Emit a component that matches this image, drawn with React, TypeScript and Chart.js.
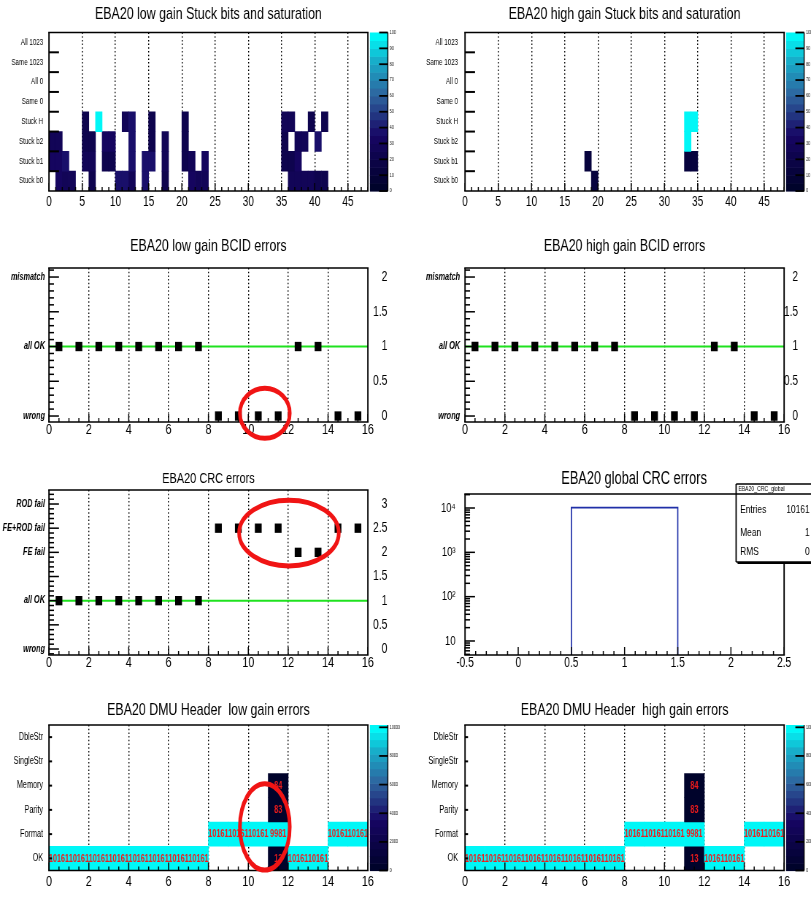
import React, { useEffect, useRef } from 'react';
import { Chart, registerables } from 'chart.js';

Chart.register(...registerables);

const FONT = "'Liberation Sans', Arial, Helvetica, sans-serif";
Chart.defaults.font.family = FONT;
Chart.defaults.color = '#000';

// horizontal squash of the original picture
const SX = 0.73;

// ---------------- data ----------------
const stuckRowLabels = ['Stuck b0', 'Stuck b1', 'Stuck b2', 'Stuck H', 'Same 0', 'All 0', 'Same 1023', 'All 1023'];
const stuckRowCenters = [0.5, 1.5, 2.5, 3.5, 4.5, 5.5, 6.5, 7.5];

const lowStuckB0Bins = [1, 2, 3, 6, 10, 11, 12, 14, 17, 21, 22, 23, 36, 37, 38, 39, 40, 41];
const lowStuckB0Vals = [32, 28, 28, 22, 35, 35, 28, 35, 22, 32, 25, 25, 28, 28, 25, 25, 22, 22];
const lowStuckB1Bins = [0, 1, 2, 5, 6, 8, 9, 12, 14, 15, 17, 20, 21, 23, 35, 36, 37];
const lowStuckB1Vals = [32, 32, 38, 25, 25, 22, 22, 38, 35, 35, 28, 22, 28, 32, 22, 22, 32];
const lowStuckB2Bins = [0, 1, 5, 6, 8, 9, 12, 15, 17, 20, 35, 37, 38, 40];
const lowStuckB2Vals = [28, 28, 22, 22, 32, 32, 38, 22, 28, 22, 22, 28, 28, 35];
const lowStuckHBins = [5, 7, 11, 12, 15, 20, 35, 36, 39, 41];
const lowStuckHVals = [22, 100, 25, 38, 22, 22, 25, 25, 22, 22];

const highStuckB0Bins = [19];
const highStuckB0Vals = [12];
const highStuckB1Bins = [18, 33, 34];
const highStuckB1Vals = [12, 14, 14];
const highStuckB2Bins = [33];
const highStuckB2Vals = [100];
const highStuckHBins = [33, 34];
const highStuckHVals = [100, 100];
const stuckPaletteTicks = [0, 10, 20, 30, 40, 50, 60, 70, 80, 90, 100];

const dmuCenters = [0.5, 1.5, 2.5, 3.5, 4.5, 5.5, 6.5, 7.5, 8.5, 9.5, 10.5, 11.5, 12.5, 13.5, 14.5, 15.5];
const bcidLowGain = [1, 1, 1, 1, 1, 1, 1, 1, 0, 0, 0, 0, 1, 1, 0, 0];
const bcidHighGain = [1, 1, 1, 1, 1, 1, 1, 1, 0, 0, 0, 0, 1, 1, 0, 0];
const bcidLabelValues = [0, 1, 2];
const bcidLabels = ['wrong', 'all OK', 'mismatch'];
const crcValues = [1, 1, 1, 1, 1, 1, 1, 1, 2.5, 2.5, 2.5, 2.5, 2, 2, 2.5, 2.5];
const crcLabelValues = [0, 1, 2, 2.5, 3];
const crcLabels = ['wrong', 'all OK', 'FE fail', 'FE+ROD fail', 'ROD fail'];
const okLevel = 1;

const crcGlobalEdges = [0.5, 1.5];
const crcGlobalCounts = [10161];
const logTickValues = [10, 100, 1000, 10000];
const logTickLabels = ['10', '10²', '10³', '10⁴'];

const dmuRowLabels = ['OK', 'Format', 'Parity', 'Memory', 'SingleStr', 'DbleStr'];
const dmuRowCenters = [0.5, 1.5, 2.5, 3.5, 4.5, 5.5];
const dmuOkBins = [0, 1, 2, 3, 4, 5, 6, 7, 11, 12, 13];
const dmuOkVals = [10161, 10161, 10161, 10161, 10161, 10161, 10161, 10161, 13, 10161, 10161];
const dmuFormatBins = [8, 9, 10, 11, 14, 15];
const dmuFormatVals = [10161, 10161, 10161, 9981, 10161, 10161];
const dmuParityBins = [11];
const dmuParityVals = [83];
const dmuMemoryBins = [11];
const dmuMemoryVals = [84];
const dmuPaletteMax = 10161;
const dmuPaletteTicks = [0, 2000, 4000, 6000, 8000, 10000];

// ---------------- palette (ROOT deep sea) ----------------
const palStops = [0, 0.34, 0.61, 0.84, 1];
const palR = [0, 0.09, 0.18, 0.09, 0];
const palG = [0.01, 0.02, 0.39, 0.68, 0.97];
const palB = [0.17, 0.39, 0.62, 0.79, 0.97];
function pal(f: number) {
  let i = 0;
  while (i < palStops.length - 2 && f > palStops[i + 1]) i++;
  const t = Math.max(0, Math.min(1, (f - palStops[i]) / (palStops[i + 1] - palStops[i])));
  const c = (arr: number[]) => Math.round(255 * (arr[i] + t * (arr[i + 1] - arr[i])));
  return `rgb(${c(palR)},${c(palG)},${c(palB)})`;
}
const NBANDS = 20;
function cellColor(v: number, max: number) {
  let k = Math.floor((v / max) * NBANDS);
  if (k >= NBANDS) k = NBANDS - 1;
  if (k < 0) k = 0;
  return pal(k / (NBANDS - 1));
}

function rowCells(row: number, bins: number[], vals: number[]) {
  return bins.map((b, i) => ({ bin: b, row, v: vals[i] }));
}

// ---------------- geometry helpers ----------------
type Box = { x: number; y: number; w: number; h: number };
type Plot = { l: number; r: number; t: number; b: number };

function geom(box: Box, plot: Plot) {
  return {
    W: Math.round(box.w / SX),
    H: box.h,
    L: (plot.l - box.x) / SX,
    R: (plot.r - box.x) / SX,
    T: plot.t - box.y,
    B: plot.b - box.y,
    box,
  };
}
const cx = (g: any, css: number) => (css - g.box.x) / SX;
const tickFmt = (v: any) => String(Math.round(Number(v) * 1000) / 1000);

function evenTicks(from: number, to: number, step: number, majorEvery: number, majorLen: number, minorLen: number) {
  const out: any[] = [];
  const n = Math.round((to - from) / step);
  for (let i = 0; i <= n; i++) {
    const v = from + i * step;
    const r = v / majorEvery;
    const maj = Math.abs(r - Math.round(r)) < 1e-6;
    out.push({ v, len: maj ? majorLen : minorLen });
  }
  return out;
}

function xAxis(g: any, min: number, max: number, step: number, size: number, pad: number, grid: boolean) {
  return {
    type: 'linear',
    position: 'bottom',
    min,
    max,
    offset: false,
    z: 1,
    afterFit: (s: any) => {
      s.height = g.H - g.B;
    },
    ticks: {
      stepSize: step,
      includeBounds: false,
      autoSkip: false,
      maxRotation: 0,
      minRotation: 0,
      padding: pad,
      color: '#000',
      font: { size, lineHeight: 1 },
      callback: (v: any) => tickFmt(v),
    },
    grid: {
      display: grid,
      drawTicks: false,
      offset: false,
      lineWidth: 1.4,
      color: (c: any) =>
        c.tick && (Math.abs(c.tick.value - min) < 1e-9 || Math.abs(c.tick.value - max) < 1e-9) ? 'rgba(0,0,0,0)' : '#000',
    },
    border: { display: false, dash: [1.5, 2.2] },
  };
}

function yLeft(g: any, type: string, min: number, max: number, vals: number[], labels: string[], font: any, pad: number) {
  return {
    type,
    position: 'left',
    min,
    max,
    afterFit: (s: any) => {
      s.width = g.L;
    },
    afterBuildTicks: (s: any) => {
      s.ticks = vals.map((v) => ({ value: v }));
    },
    ticks: { autoSkip: false, padding: pad, color: '#000', font, callback: (_v: any, i: number) => labels[i] },
    grid: { display: false, drawTicks: false },
    border: { display: false },
  };
}

function yRight(g: any, min: number, max: number, step: number, size: number, rightCss: number) {
  const rEdge = (rightCss - g.box.x) / SX;
  const width = rEdge - g.R;
  const widest = 1.39 * size;
  return {
    padRight: g.W - rEdge,
    axis: {
      type: 'linear',
      position: 'right',
      min,
      max,
      afterFit: (s: any) => {
        s.width = width;
      },
      ticks: {
        stepSize: step,
        includeBounds: false,
        crossAlign: 'far',
        padding: width - widest,
        color: '#000',
        font: { size, lineHeight: 1 },
        callback: (v: any) => tickFmt(v),
      },
      grid: { display: false, drawTicks: false },
      border: { display: false },
    },
  };
}

function cbAxis(g: any, max: number, tickVals: number[]) {
  return {
    type: 'linear',
    position: 'right',
    min: 0,
    max,
    afterFit: (s: any) => {
      s.width = g.W - g.R;
    },
    afterBuildTicks: (s: any) => {
      s.ticks = tickVals.map((v) => ({ value: v }));
    },
    ticks: { autoSkip: false, padding: 30, color: '#000', font: { size: 5, lineHeight: 1 }, callback: (v: any) => tickFmt(v) },
    grid: { display: false, drawTicks: false },
    border: { display: false },
  };
}

function baseOpts(g: any, padRight: number, scales: any) {
  return {
    responsive: false,
    animation: false,
    events: [],
    layout: { autoPadding: false, padding: { top: g.T, right: padRight, bottom: 0, left: 0 } },
    plugins: { legend: { display: false }, tooltip: { enabled: false }, title: { display: false } },
    scales,
  };
}

// ---------------- decoration plugin (ROOT frame, ticks, title, palette, annotations) ----------------
function decorPlugin(d: any) {
  return {
    id: 'decor',
    afterDraw(chart: any) {
      const ctx = chart.ctx;
      const a = chart.chartArea;
      const xs = chart.scales.x;
      const ys = chart.scales.y;
      const line = (x1: number, y1: number, x2: number, y2: number) => {
        ctx.beginPath();
        ctx.moveTo(x1, y1);
        ctx.lineTo(x2, y2);
        ctx.stroke();
      };
      ctx.save();

      if (d.cellText) {
        const meta = chart.getDatasetMeta(0);
        const raw = chart.data.datasets[0].data;
        ctx.fillStyle = '#ee1c1c';
        ctx.font = `bold ${d.cellText}px ${FONT}`;
        ctx.textAlign = 'center';
        ctx.textBaseline = 'middle';
        meta.data.forEach((el: any, i: number) => {
          ctx.fillText(String(raw[i].v), el.x, (el.y + el.base) / 2 + 0.5);
        });
      }

      if (d.cb) {
        const s = chart.scales[d.cb.axis];
        for (let k = 0; k < NBANDS; k++) {
          const y0 = s.getPixelForValue((k * d.cb.max) / NBANDS);
          const y1 = s.getPixelForValue(((k + 1) * d.cb.max) / NBANDS);
          ctx.fillStyle = pal(k / (NBANDS - 1));
          ctx.fillRect(d.cb.x0, y1, d.cb.x1 - d.cb.x0, y0 - y1 + 0.6);
        }
        ctx.strokeStyle = '#000';
        ctx.lineWidth = 1.8;
        s.ticks.forEach((t: any) => {
          const py = s.getPixelForValue(t.value);
          line(d.cb.x1 - 12, py, d.cb.x1, py);
        });
        ctx.lineWidth = 1.4;
        line(d.cb.x1, a.top, d.cb.x1, a.bottom);
      }

      // frame
      ctx.strokeStyle = '#000';
      ctx.lineWidth = 1.3;
      line(a.left - 1, a.top, a.right + 1, a.top);
      line(a.left - 1, a.bottom, a.right + 1, a.bottom);
      ctx.lineWidth = 1.9;
      line(a.left, a.top, a.left, a.bottom);
      line(a.right, a.top, a.right, a.bottom);

      // x ticks (inside)
      ctx.lineWidth = 1.5;
      const nx = Math.round((xs.max - xs.min) / d.xMinor);
      for (let i = 0; i <= nx; i++) {
        const v = xs.min + i * d.xMinor;
        const r = v / d.xMajor;
        const maj = Math.abs(r - Math.round(r)) < 1e-6;
        const px = xs.getPixelForValue(v);
        line(px, a.bottom, px, a.bottom - (maj ? d.xMajorLen : d.xMinorLen));
      }
      // y ticks (inside)
      ctx.lineWidth = d.yTickW;
      d.yTicks.forEach((t: any) => {
        const py = ys.getPixelForValue(t.v);
        line(a.left, py, a.left + t.len / SX, py);
      });

      // annotations
      if (d.ellipses) {
        ctx.strokeStyle = '#f01414';
        ctx.lineWidth = 5;
        d.ellipses.forEach((e: any) => {
          const ex = xs.getPixelForValue(e.x);
          const ey = ys.getPixelForValue(e.y);
          const rx = Math.abs(xs.getPixelForValue(e.x + e.rx) - ex);
          const ry = Math.abs(ys.getPixelForValue(e.y + e.ry) - ey);
          ctx.beginPath();
          ctx.ellipse(ex, ey, rx, ry, 0, 0, Math.PI * 2);
          ctx.stroke();
        });
      }

      // statistics box
      if (d.stats) {
        const st = d.stats;
        const right = chart.width + 20;
        ctx.fillStyle = '#000';
        ctx.fillRect(st.x0 + 2, st.y0 + 2, right - st.x0, st.y1 - st.y0);
        ctx.fillStyle = '#fff';
        ctx.fillRect(st.x0, st.y0, right - st.x0, st.y1 - st.y0);
        ctx.strokeStyle = '#000';
        ctx.lineWidth = 1.3;
        line(st.x0, st.y0, right, st.y0);
        line(st.x0, st.y1, right, st.y1);
        line(st.x0, st.sep, right, st.sep);
        ctx.lineWidth = 1.8;
        line(st.x0, st.y0, st.x0, st.y1);
        ctx.fillStyle = '#000';
        ctx.textBaseline = 'middle';
        ctx.textAlign = 'left';
        ctx.font = `${st.headSize}px ${FONT}`;
        ctx.fillText(st.header, st.x0 + 3, (st.y0 + st.sep) / 2 + 0.5);
        ctx.font = `${st.size}px ${FONT}`;
        st.rows.forEach((r: any) => {
          ctx.textAlign = 'left';
          ctx.fillText(r[0], st.labelX, r[2]);
          ctx.textAlign = 'right';
          ctx.fillText(r[1], st.valX, r[2]);
        });
      }

      // title
      ctx.fillStyle = '#000';
      ctx.font = `${d.titleSize}px ${FONT}`;
      ctx.textAlign = 'center';
      ctx.textBaseline = 'middle';
      const tx = d.titleX !== undefined ? d.titleX : (a.left + a.right) / 2;
      ctx.fillText(d.title, tx, d.titleY);
      ctx.restore();
    },
  };
}

// ---------------- chart builders ----------------
function heatmap(g: any, cells: any[], rowCenters: number[], rowLabels: string[], rowFont: any, rowPad: number, xMax: number, xStep: number,
  xFont: number, xPad: number, cbMax: number, cbTicks: number[], deco: any) {
  return {
    type: 'bar',
    data: {
      datasets: [
        {
          data: cells.map((c) => ({ x: c.bin + 0.5, y: [c.row, c.row + 1], v: c.v })),
          backgroundColor: cells.map((c) => cellColor(c.v, cbMax)),
          borderWidth: 0,
          barPercentage: 1,
          categoryPercentage: 1,
          grouped: false,
        },
      ],
    },
    options: baseOpts(g, 0, {
      x: xAxis(g, 0, xMax, xStep, xFont, xPad, true),
      y: yLeft(g, 'linear', 0, rowCenters.length, rowCenters, rowLabels, rowFont, rowPad),
      cb: cbAxis(g, cbMax, cbTicks),
    }),
    plugins: [decorPlugin(deco)],
  };
}

function errorPlot(g: any, values: number[], yMin: number, yMax: number, labelVals: number[], labels: string[], leftPad: number,
  rightCss: number, deco: any) {
  const r = yRight(g, yMin, yMax, 0.5, 14, rightCss);
  return {
    type: 'scatter',
    data: {
      datasets: [
        {
          data: dmuCenters.map((x, i) => ({ x, y: values[i] })),
          pointStyle: 'rect',
          pointRadius: 6.6,
          backgroundColor: '#000',
          borderColor: '#000',
          borderWidth: 0,
        },
        {
          type: 'line',
          data: [
            { x: 0, y: okLevel },
            { x: dmuCenters.length, y: okLevel },
          ],
          borderColor: '#1fe21f',
          borderWidth: 2,
          pointRadius: 0,
          showLine: true,
          fill: false,
        },
      ],
    },
    options: baseOpts(g, r.padRight, {
      x: xAxis(g, 0, 16, 2, 15, 0, true),
      y: yLeft(g, 'linear', yMin, yMax, labelVals, labels, { size: 10, style: 'italic', weight: 'bold', lineHeight: 1 }, leftPad),
      y2: r.axis,
    }),
    plugins: [decorPlugin(deco)],
  };
}

// ---------------- panels ----------------
const lowStuckCells = [
  ...rowCells(0, lowStuckB0Bins, lowStuckB0Vals),
  ...rowCells(1, lowStuckB1Bins, lowStuckB1Vals),
  ...rowCells(2, lowStuckB2Bins, lowStuckB2Vals),
  ...rowCells(3, lowStuckHBins, lowStuckHVals),
];
const highStuckCells = [
  ...rowCells(0, highStuckB0Bins, highStuckB0Vals),
  ...rowCells(1, highStuckB1Bins, highStuckB1Vals),
  ...rowCells(2, highStuckB2Bins, highStuckB2Vals),
  ...rowCells(3, highStuckHBins, highStuckHVals),
];
const dmuCells = [
  ...rowCells(0, dmuOkBins, dmuOkVals),
  ...rowCells(1, dmuFormatBins, dmuFormatVals),
  ...rowCells(2, dmuParityBins, dmuParityVals),
  ...rowCells(3, dmuMemoryBins, dmuMemoryVals),
];

const stuckRowTicks = [1, 2, 3, 4, 5, 6, 7].map((v) => ({ v, len: 10 }));
const dmuRowTicks = dmuRowCenters.map((v) => ({ v, len: 3 }));

const panels: any[] = [
  {
    box: { x: 0, y: 0, w: 405, h: 225 },
    plot: { l: 49, r: 368, t: 30, b: 191 },
    make: (g: any) =>
      heatmap(g, lowStuckCells, stuckRowCenters, stuckRowLabels, { size: 8.5, lineHeight: 1 }, 8, 48, 5, 14, 4, 100, stuckPaletteTicks, {
        title: 'EBA20 low gain Stuck bits and saturation', titleSize: 17, titleY: 14,
        xMinor: 1, xMajor: 5, xMinorLen: 4, xMajorLen: 8,
        yTicks: stuckRowTicks, yTickW: 2,
        cb: { axis: 'cb', max: 100, x0: cx(g, 370), x1: cx(g, 388) },
      }),
  },
  {
    box: { x: 405, y: 0, w: 406, h: 225 },
    plot: { l: 465, r: 784, t: 30, b: 191 },
    make: (g: any) =>
      heatmap(g, highStuckCells, stuckRowCenters, stuckRowLabels, { size: 8.5, lineHeight: 1 }, 9.6, 48, 5, 14, 4, 100, stuckPaletteTicks, {
        title: 'EBA20 high gain Stuck bits and saturation', titleSize: 17, titleY: 14,
        xMinor: 1, xMajor: 5, xMinorLen: 4, xMajorLen: 8,
        yTicks: stuckRowTicks, yTickW: 2,
        cb: { axis: 'cb', max: 100, x0: cx(g, 786), x1: cx(g, 804) },
      }),
  },
  {
    box: { x: 0, y: 225, w: 405, h: 230 },
    plot: { l: 49, r: 368, t: 268, b: 422 },
    make: (g: any) =>
      errorPlot(g, bcidLowGain, -0.086, 2.13, bcidLabelValues, bcidLabels, 5.5, 387.5, {
        title: 'EBA20 low gain BCID errors', titleSize: 17, titleY: 21,
        xMinor: 0.5, xMajor: 2, xMinorLen: 4, xMajorLen: 8,
        yTicks: evenTicks(0, 2.1, 0.1, 0.5, 10, 5), yTickW: 1.5,
        ellipses: [{ x: 10.83, y: 0.04, rx: 1.25, ry: 0.36 }],
      }),
  },
  {
    box: { x: 405, y: 225, w: 406, h: 230 },
    plot: { l: 465, r: 784, t: 268, b: 422 },
    make: (g: any) =>
      errorPlot(g, bcidHighGain, -0.086, 2.13, bcidLabelValues, bcidLabels, 6.8, 798, {
        title: 'EBA20 high gain BCID errors', titleSize: 17, titleY: 21,
        xMinor: 0.5, xMajor: 2, xMinorLen: 4, xMajorLen: 8,
        yTicks: evenTicks(0, 2.1, 0.1, 0.5, 10, 5), yTickW: 1.5,
      }),
  },
  {
    box: { x: 0, y: 455, w: 405, h: 235 },
    plot: { l: 49, r: 368, t: 490, b: 655 },
    make: (g: any) =>
      errorPlot(g, crcValues, -0.124, 3.29, crcLabelValues, crcLabels, 5.5, 387.5, {
        title: 'EBA20 CRC errors', titleSize: 15, titleY: 24,
        xMinor: 0.5, xMajor: 2, xMinorLen: 4, xMajorLen: 8,
        yTicks: evenTicks(-0.1, 3.2, 0.1, 0.5, 10, 5), yTickW: 1.5,
        ellipses: [{ x: 12.04, y: 2.4, rx: 2.5, ry: 0.68 }],
      }),
  },
  {
    box: { x: 405, y: 455, w: 406, h: 235 },
    plot: { l: 465, r: 784, t: 494, b: 655 },
    make: (g: any) => {
      const yMin = 4.83;
      const yMax = 20700;
      const outline: any[] = [];
      crcGlobalCounts.forEach((c, i) => {
        outline.push({ x: crcGlobalEdges[i], y: yMin });
        outline.push({ x: crcGlobalEdges[i], y: c });
        outline.push({ x: crcGlobalEdges[i + 1], y: c });
        outline.push({ x: crcGlobalEdges[i + 1], y: yMin });
      });
      const entries = crcGlobalCounts.reduce((s, c) => s + c, 0);
      const centers = crcGlobalCounts.map((_c, i) => (crcGlobalEdges[i] + crcGlobalEdges[i + 1]) / 2);
      const mean = crcGlobalCounts.reduce((s, c, i) => s + c * centers[i], 0) / entries;
      const rms = Math.sqrt(crcGlobalCounts.reduce((s, c, i) => s + c * (centers[i] - mean) ** 2, 0) / entries);
      const minorLog: any[] = [];
      [1, 10, 100, 1000, 10000].forEach((dec) => {
        for (let k = 1; k <= 9; k++) {
          const v = k * dec;
          if (v >= yMin && v <= yMax) minorLog.push({ v, len: k === 1 ? 10 : 5 });
        }
      });
      return {
        type: 'line',
        data: {
          datasets: [
            { data: outline, borderColor: '#2030a8', borderWidth: 1.7, pointRadius: 0, fill: false, tension: 0 },
          ],
        },
        options: baseOpts(g, g.W - g.R, {
          x: xAxis(g, -0.5, 2.5, 0.5, 14, 1, false),
          y: yLeft(g, 'logarithmic', yMin, yMax, logTickValues, logTickLabels, { size: 13, lineHeight: 1 }, 13),
        }),
        plugins: [
          decorPlugin({
            title: 'EBA20 global CRC errors', titleSize: 17.5, titleY: 24, titleX: cx(g, 634),
            xMinor: 0.1, xMajor: 0.5, xMinorLen: 4, xMajorLen: 8,
            yTicks: minorLog, yTickW: 1.5,
            stats: {
              x0: cx(g, 736), y0: 29, y1: 107, sep: 39,
              header: 'EBA20_CRC_global', headSize: 7, size: 11.5,
              labelX: cx(g, 740), valX: cx(g, 809.5),
              rows: [
                ['Entries', String(entries), 55],
                ['Mean', tickFmt(mean), 78],
                ['RMS', tickFmt(rms), 97],
              ],
            },
          }),
        ],
      };
    },
  },
  {
    box: { x: 0, y: 690, w: 405, h: 213 },
    plot: { l: 49, r: 368, t: 725, b: 885 },
    make: (g: any) =>
      heatmap(g, dmuCells, dmuRowCenters, dmuRowLabels, { size: 10, lineHeight: 1 }, 8, 16, 2, 15, 3.5, dmuPaletteMax, dmuPaletteTicks, {
        title: 'EBA20 DMU Header  low gain errors', titleSize: 17, titleY: 20,
        xMinor: 0.5, xMajor: 2, xMinorLen: 4, xMajorLen: 8,
        yTicks: dmuRowTicks, yTickW: 2,
        cb: { axis: 'cb', max: dmuPaletteMax, x0: cx(g, 370), x1: cx(g, 388) },
        cellText: 10,
        ellipses: [{ x: 10.83, y: 1.8, rx: 1.25, ry: 1.78 }],
      }),
  },
  {
    box: { x: 405, y: 690, w: 406, h: 213 },
    plot: { l: 465, r: 784, t: 725, b: 885 },
    make: (g: any) =>
      heatmap(g, dmuCells, dmuRowCenters, dmuRowLabels, { size: 10, lineHeight: 1 }, 9.6, 16, 2, 15, 3.5, dmuPaletteMax, dmuPaletteTicks, {
        title: 'EBA20 DMU Header  high gain errors', titleSize: 17, titleY: 20,
        xMinor: 0.5, xMajor: 2, xMinorLen: 4, xMajorLen: 8,
        yTicks: dmuRowTicks, yTickW: 2,
        cb: { axis: 'cb', max: dmuPaletteMax, x0: cx(g, 786), x1: cx(g, 804) },
        cellText: 10,
      }),
  },
];

function Panel({ spec }: { spec: any }) {
  const ref = useRef<HTMLCanvasElement>(null);
  const g = geom(spec.box, spec.plot);
  useEffect(() => {
    const chart = new Chart(ref.current as HTMLCanvasElement, spec.make(g) as any);
    return () => chart.destroy();
  }, []);
  return (
    <canvas
      ref={ref}
      width={g.W}
      height={g.H}
      style={{ position: 'absolute', left: spec.box.x, top: spec.box.y, width: spec.box.w, height: spec.box.h }}
    />
  );
}

export default function App() {
  return (
    <div style={{ position: 'absolute', left: 0, top: 0, width: 811, height: 903, background: '#fff', overflow: 'hidden' }}>
      {panels.map((p, i) => (
        <Panel key={i} spec={p} />
      ))}
    </div>
  );
}
